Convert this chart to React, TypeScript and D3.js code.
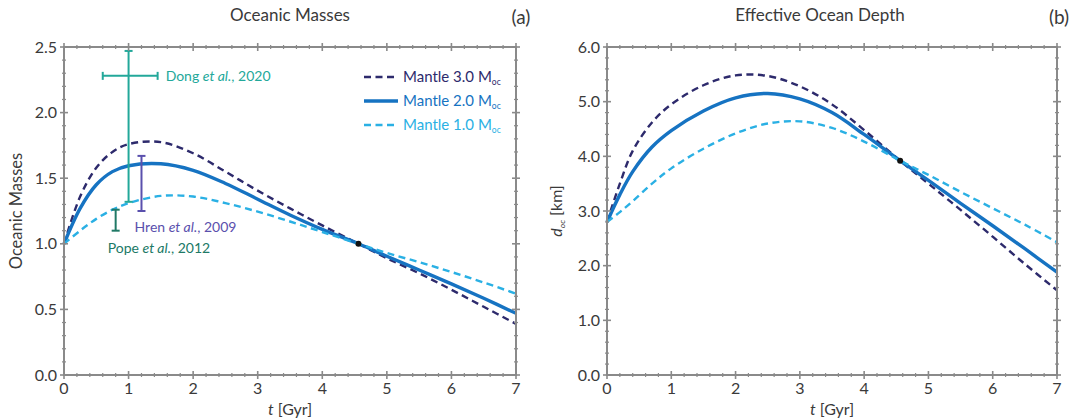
import React from "react";
import * as d3 from "d3";

// ---------- data ----------
const T_A = [0, 0.25, 0.5, 0.75, 1, 1.5, 2, 2.5, 3, 3.5, 4, 4.56, 5, 5.5, 6, 6.5, 7];
const MASS_M3 = [1.0, 1.36, 1.58, 1.7, 1.76, 1.775, 1.69, 1.55, 1.405, 1.27, 1.14, 1.0, 0.89, 0.775, 0.65, 0.52, 0.39];
const MASS_M2 = [1.0, 1.27, 1.45, 1.55, 1.595, 1.61, 1.56, 1.46, 1.34, 1.22, 1.11, 1.0, 0.905, 0.8, 0.695, 0.585, 0.47];
const MASS_M1 = [1.0, 1.1, 1.19, 1.26, 1.31, 1.365, 1.36, 1.31, 1.245, 1.17, 1.09, 1.0, 0.93, 0.86, 0.785, 0.705, 0.62];

const T_B = [0, 0.2, 0.4, 0.7, 1, 1.5, 2, 2.5, 3, 3.5, 4, 4.56, 5, 5.5, 6, 6.5, 7];
const DEPTH_M3 = [2.8, 3.5, 4.1, 4.62, 4.95, 5.3, 5.48, 5.47, 5.28, 4.95, 4.48, 3.92, 3.5, 3.02, 2.53, 2.03, 1.55];
const DEPTH_M2 = [2.8, 3.3, 3.72, 4.17, 4.47, 4.83, 5.07, 5.15, 5.05, 4.8, 4.4, 3.92, 3.56, 3.14, 2.73, 2.31, 1.88];
const DEPTH_M1 = [2.8, 2.98, 3.18, 3.5, 3.78, 4.14, 4.42, 4.6, 4.64, 4.52, 4.27, 3.92, 3.66, 3.35, 3.05, 2.75, 2.43];

const PRESENT_T = 4.56;
const PRESENT_MASS = 1.0;
const PRESENT_DEPTH = 3.92;

const SERIES_NAMES = ["Mantle 3.0 M", "Mantle 2.0 M", "Mantle 1.0 M"];

// error bars (panel a)
const ERR_NAMES = ["Dong", "Hren", "Pope"];
const ERR_YEARS = ["2020", "2009", "2012"];
const ERR_T = [1.0, 1.2, 0.8];
const ERR_LO = [1.32, 1.25, 1.1];
const ERR_HI = [2.47, 1.67, 1.26];
const DONG_T_RANGE = [0.6, 1.45];
const DONG_Y = 2.28;

const X_TICKS = [0, 1, 2, 3, 4, 5, 6, 7];
const YA_TICKS = [0, 0.5, 1, 1.5, 2, 2.5];
const YB_TICKS = [0, 1, 2, 3, 4, 5, 6];

// ---------- styles ----------
const C_DARK = "#2d2a6c";
const C_MID = "#1673c2";
const C_LIGHT = "#2ab0e4";
const C_DONG = "#23a89a";
const C_HREN = "#5a50ad";
const C_POPE = "#207966";
const C_AXIS = "#8a8a8a";
const C_TEXT = "#3a3a3a";
const FONT = "Lato, 'Open Sans', sans-serif";

const STYLES = [
  { color: C_DARK, width: 2.4, dash: "7,4.5" },
  { color: C_MID, width: 3.4, dash: null },
  { color: C_LIGHT, width: 2.4, dash: "7,4.5" },
];

type PanelProps = {
  left: number;
  right: number;
  top: number;
  bottom: number;
  yMax: number;
  yTicks: number[];
  yMinorStep: number;
  t: number[];
  series: number[][];
  dotY: number;
  children?: (x: d3.ScaleLinear<number, number>, y: d3.ScaleLinear<number, number>) => React.ReactNode;
};

function Panel({ left, right, top, bottom, yMax, yTicks, yMinorStep, t, series, dotY, children }: PanelProps) {
  const x = d3.scaleLinear().domain([0, 7]).range([left, right]);
  const y = d3.scaleLinear().domain([0, yMax]).range([bottom, top]);
  const line = d3
    .line<number>()
    .x((_, i) => x(t[i]))
    .y((d) => y(d))
    .curve(d3.curveCatmullRom.alpha(0.5));

  const xMinor = d3.range(0, 7.0001, 0.2).filter((v) => Math.abs(v - Math.round(v)) > 1e-6);
  const yMinor = d3.range(0, yMax + 1e-6, yMinorStep).filter((v) => !yTicks.some((tk) => Math.abs(tk - v) < 1e-6));

  return (
    <g>
      {series.map((s, i) => (
        <path
          key={i}
          d={line(s) || ""}
          fill="none"
          stroke={STYLES[i].color}
          strokeWidth={STYLES[i].width}
          strokeDasharray={STYLES[i].dash || undefined}
        />
      ))}
      <circle cx={x(PRESENT_T)} cy={y(dotY)} r={3} fill="#111" />
      {children && children(x, y)}
      <rect x={left} y={top} width={right - left} height={bottom - top} fill="none" stroke={C_AXIS} strokeWidth={2} />
      {X_TICKS.map((v) => (
        <g key={"xt" + v}>
          <line x1={x(v)} x2={x(v)} y1={bottom - 4} y2={bottom + 4} stroke={C_AXIS} strokeWidth={1.6} />
          <line x1={x(v)} x2={x(v)} y1={top - 4} y2={top + 4} stroke={C_AXIS} strokeWidth={1.6} />
          <text x={x(v)} y={bottom + 19} textAnchor="middle" fontSize={16} fill={C_TEXT} fontFamily={FONT}>
            {v}
          </text>
        </g>
      ))}
      {xMinor.map((v, i) => (
        <g key={"xm" + i}>
          <line x1={x(v)} x2={x(v)} y1={bottom - 2} y2={bottom + 2} stroke={C_AXIS} strokeWidth={1.2} />
          <line x1={x(v)} x2={x(v)} y1={top - 2} y2={top + 2} stroke={C_AXIS} strokeWidth={1.2} />
        </g>
      ))}
      {yTicks.map((v) => (
        <g key={"yt" + v}>
          <line x1={left - 4} x2={left + 4} y1={y(v)} y2={y(v)} stroke={C_AXIS} strokeWidth={1.6} />
          <line x1={right - 4} x2={right + 4} y1={y(v)} y2={y(v)} stroke={C_AXIS} strokeWidth={1.6} />
          <text x={left - 7} y={y(v) + 5.5} textAnchor="end" fontSize={16} fill={C_TEXT} fontFamily={FONT}>
            {v.toFixed(1)}
          </text>
        </g>
      ))}
      {yMinor.map((v, i) => (
        <g key={"ym" + i}>
          <line x1={left - 2} x2={left + 2} y1={y(v)} y2={y(v)} stroke={C_AXIS} strokeWidth={1.2} />
          <line x1={right - 2} x2={right + 2} y1={y(v)} y2={y(v)} stroke={C_AXIS} strokeWidth={1.2} />
        </g>
      ))}
      <text x={(left + right) / 2} y={bottom + 40} textAnchor="middle" fontSize={16} fill={C_TEXT} fontFamily={FONT}>
        <tspan fontStyle="italic">t</tspan> [Gyr]
      </text>
    </g>
  );
}

export default function App() {
  const W = 1082;
  const H = 420;
  return (
    <svg width={W} height={H} style={{ display: "block", position: "absolute", left: 0, top: 0, background: "#fff" }}>
      <rect x={0} y={0} width={W} height={H} fill="#fff" />
      {/* Panel (a) */}
      <text x={290} y={21} textAnchor="middle" fontSize={17} fill={C_TEXT} fontFamily={FONT}>
        Oceanic Masses
      </text>
      <text x={521} y={24} textAnchor="middle" fontSize={19} fill={C_TEXT} fontFamily={FONT}>
        (a)
      </text>
      <text
        transform="translate(22,211) rotate(-90)"
        textAnchor="middle"
        fontSize={16.5}
        fill={C_TEXT}
        fontFamily={FONT}
      >
        Oceanic Masses
      </text>
      <Panel
        left={64}
        right={516}
        top={47}
        bottom={375}
        yMax={2.5}
        yTicks={YA_TICKS}
        yMinorStep={0.1}
        t={T_A}
        series={[MASS_M3, MASS_M2, MASS_M1]}
        dotY={PRESENT_MASS}
      >
        {(x, y) => {
          const colors = [C_DONG, C_HREN, C_POPE];
          return (
            <g>
              {ERR_T.map((tv, i) => (
                <g key={"eb" + i} stroke={colors[i]} strokeWidth={2}>
                  <line x1={x(tv)} x2={x(tv)} y1={y(ERR_LO[i])} y2={y(ERR_HI[i])} />
                  <line x1={x(tv) - 4} x2={x(tv) + 4} y1={y(ERR_LO[i])} y2={y(ERR_LO[i])} />
                  <line x1={x(tv) - 4} x2={x(tv) + 4} y1={y(ERR_HI[i])} y2={y(ERR_HI[i])} />
                </g>
              ))}
              <g stroke={C_DONG} strokeWidth={2}>
                <line x1={x(DONG_T_RANGE[0])} x2={x(DONG_T_RANGE[1])} y1={y(DONG_Y)} y2={y(DONG_Y)} />
                <line x1={x(DONG_T_RANGE[0])} x2={x(DONG_T_RANGE[0])} y1={y(DONG_Y) - 4} y2={y(DONG_Y) + 4} />
                <line x1={x(DONG_T_RANGE[1])} x2={x(DONG_T_RANGE[1])} y1={y(DONG_Y) - 4} y2={y(DONG_Y) + 4} />
              </g>
              <text x={x(DONG_T_RANGE[1]) + 8} y={y(DONG_Y) + 5} fontSize={14} fill={C_DONG} fontFamily={FONT}>
                {ERR_NAMES[0]} <tspan fontStyle="italic">et al.</tspan>, {ERR_YEARS[0]}
              </text>
              <text x={x(ERR_T[1]) - 7} y={y(ERR_LO[1]) + 21} fontSize={14} fill={C_HREN} fontFamily={FONT}>
                {ERR_NAMES[1]} <tspan fontStyle="italic">et al.</tspan>, {ERR_YEARS[1]}
              </text>
              <text x={x(ERR_T[2]) - 8} y={y(ERR_LO[2]) + 22} fontSize={14} fill={C_POPE} fontFamily={FONT}>
                {ERR_NAMES[2]} <tspan fontStyle="italic">et al.</tspan>, {ERR_YEARS[2]}
              </text>
              {SERIES_NAMES.map((nm, i) => (
                <g key={"lg" + i}>
                  <line
                    x1={364}
                    x2={398}
                    y1={77 + i * 24}
                    y2={77 + i * 24}
                    stroke={STYLES[i].color}
                    strokeWidth={STYLES[i].width}
                    strokeDasharray={STYLES[i].dash || undefined}
                  />
                  <text x={403} y={82 + i * 24} fontSize={15} fill={STYLES[i].color} fontFamily={FONT}>
                    {nm}
                    <tspan fontSize={8.5} dy={3}>
                      oc
                    </tspan>
                  </text>
                </g>
              ))}
            </g>
          );
        }}
      </Panel>

      {/* Panel (b) */}
      <text x={820} y={21} textAnchor="middle" fontSize={17} fill={C_TEXT} fontFamily={FONT}>
        Effective Ocean Depth
      </text>
      <text x={1059} y={24} textAnchor="middle" fontSize={19} fill={C_TEXT} fontFamily={FONT}>
        (b)
      </text>
      <text
        transform="translate(562,211) rotate(-90)"
        textAnchor="middle"
        fontSize={16}
        fill={C_TEXT}
        fontFamily={FONT}
      >
        <tspan fontStyle="italic">d</tspan>
        <tspan fontSize={8.5} dy={3} fontStyle="italic">
          oc
        </tspan>
        <tspan dy={-3}> [km]</tspan>
      </text>
      <Panel
        left={607}
        right={1057}
        top={47}
        bottom={375}
        yMax={6}
        yTicks={YB_TICKS}
        yMinorStep={0.2}
        t={T_B}
        series={[DEPTH_M3, DEPTH_M2, DEPTH_M1]}
        dotY={PRESENT_DEPTH}
      />
    </svg>
  );
}
